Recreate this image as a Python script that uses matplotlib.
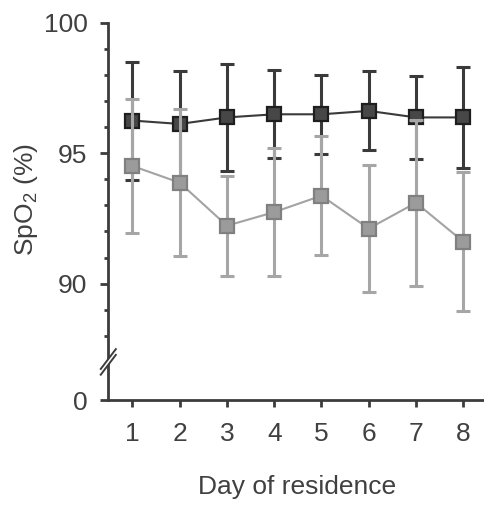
import matplotlib
matplotlib.use("Agg")
import matplotlib.pyplot as plt
import numpy as np

# ---- data ----
days = [1, 2, 3, 4, 5, 6, 7, 8]
dark_mean = [96.25, 96.12, 96.37, 96.49, 96.49, 96.62, 96.37, 96.37]
dark_err = [2.26, 2.03, 2.06, 1.69, 1.51, 1.51, 1.60, 1.92]
gray_mean = [94.51, 93.87, 92.22, 92.74, 93.37, 92.11, 93.10, 91.61]
gray_err = [2.57, 2.81, 1.92, 2.44, 2.27, 2.44, 3.18, 2.67]
ytick_values = [100, 95, 90]
ytick_labels = ["100", "95", "90"]
zero_label = "0"
minor_values = [88, 89, 91, 92, 93, 94, 96, 97, 98, 99]

plt.rcParams['font.family'] = ['Liberation Sans', 'DejaVu Sans']
plt.rcParams['mathtext.fontset'] = 'custom'
plt.rcParams['mathtext.rm'] = 'Liberation Sans'

TXT = "#404040"
AX = "#3c3c3c"
FS = 19

fig = plt.figure(figsize=(4.85, 5.12), dpi=100)
ax = fig.add_axes([0.2233, 0.21875, 0.7767, 0.7369])

y_bottom = 85.54  # axis position where the broken axis shows "0"
ax.set_ylim(y_bottom, 100)
ax.set_xlim(0.49, 8.46)

# dark series
ax.plot(days, dark_mean, color="#3a3a3a", lw=1.5, zorder=2)
ax.errorbar(days, dark_mean, yerr=dark_err, fmt='none', ecolor="#3a3a3a",
            elinewidth=2.2, capsize=5.2, capthick=2.2, zorder=2)
ax.plot(days, dark_mean, ls='none', marker='s', ms=10.3,
        mfc="#474747", mec="#1e1e1e", mew=1.6, zorder=3)
# gray series
ax.plot(days, gray_mean, color="#a3a3a3", lw=1.5, zorder=4)
ax.errorbar(days, gray_mean, yerr=gray_err, fmt='none', ecolor="#a6a6a6",
            elinewidth=2.2, capsize=5.2, capthick=2.2, zorder=4)
ax.plot(days, gray_mean, ls='none', marker='s', ms=10.6,
        mfc="#9b9b9b", mec="#808080", mew=1.6, zorder=5)

for s in ['top', 'right']:
    ax.spines[s].set_visible(False)
for s in ['left', 'bottom']:
    ax.spines[s].set_color(AX)
    ax.spines[s].set_linewidth(2.0)

ax.set_yticks(ytick_values + [y_bottom])
ax.set_yticklabels(ytick_labels + [zero_label])
ax.set_yticks(minor_values, minor=True)
ax.set_xticks(days)
ax.set_xticklabels([str(d) for d in days])

ax.tick_params(axis='y', which='major', length=6, width=2.0, color=AX,
               labelsize=FS, labelcolor=TXT, pad=9)
ax.tick_params(axis='y', which='minor', length=3, width=2.0, color=AX)
ax.tick_params(axis='x', which='major', length=5, width=2.0, color=AX,
               labelsize=FS, labelcolor=TXT, pad=11)

ax.set_xlabel("Day of residence", fontsize=FS, color=TXT)
ax.xaxis.set_label_coords(0.5, -0.2)
ax.xaxis.label.set_va('top')
ax.set_ylabel("SpO$_2$ (%)", fontsize=FS, color=TXT)
ax.yaxis.set_label_coords(-0.18, 0.53)

# axis break marks
trans = ax.get_yaxis_transform()
yb = 87.0
dx = 0.02
dy = 0.38
gap = 0.22
ax.fill([-dx, dx, dx, -dx], [yb - dy - gap / 2, yb + dy - gap / 2, yb + dy + gap / 2, yb - dy + gap / 2],
        transform=trans, color='white', clip_on=False, zorder=10, lw=0)
for off in (-gap / 2, gap / 2):
    ax.plot([-dx, dx], [yb - dy + off, yb + dy + off], transform=trans,
            color=AX, lw=1.4, clip_on=False, zorder=11)

fig.savefig("out.png", dpi=100, facecolor='white')
